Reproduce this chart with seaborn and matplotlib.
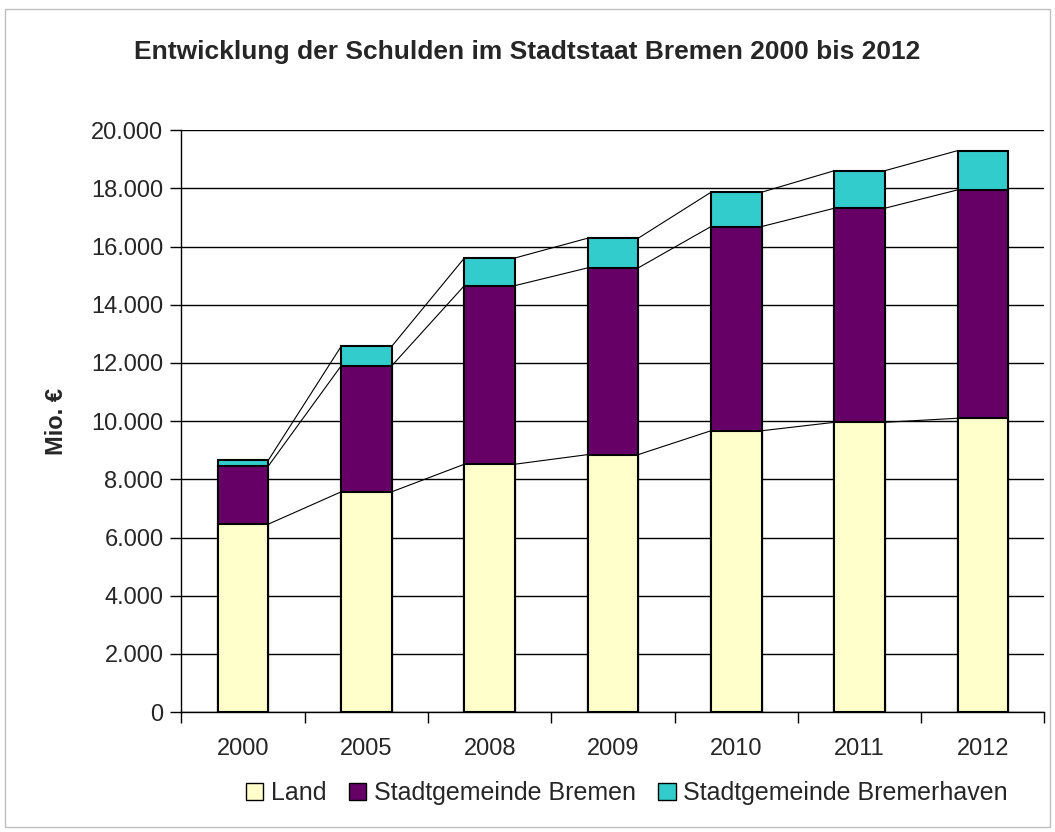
import pandas as pd
import matplotlib.pyplot as plt
import seaborn as sns
from matplotlib.patches import Patch, Rectangle
from matplotlib.ticker import FuncFormatter, FixedLocator

years = ['2000', '2005', '2008', '2009', '2010', '2011', '2012']
land = [6460, 7570, 8520, 8850, 9670, 9960, 10100]
bremen = [2000, 4330, 6140, 6420, 7020, 7360, 7850]
bremerhaven = [200, 670, 950, 1020, 1180, 1290, 1350]

labels = ['Land', 'Stadtgemeinde Bremen', 'Stadtgemeinde Bremerhaven']
colors = ['#FFFFCC', '#660066', '#33CCCC']

df = pd.DataFrame({'Jahr': years, 'Land': land, 'Bremen': bremen, 'Bremerhaven': bremerhaven})
df['c1'] = df['Land']
df['c2'] = df['Land'] + df['Bremen']
df['c3'] = df['c2'] + df['Bremerhaven']

sns.set_style('white')
plt.rcParams['font.family'] = ['Liberation Sans', 'DejaVu Sans']

fig = plt.figure(figsize=(10.55, 8.32), dpi=100)
ax = fig.add_axes([0.172, 0.1442, 0.818, 0.6992])

w = 0.41
# stacked bars: draw cumulative totals from top to bottom
for col, c in zip(['c3', 'c2', 'c1'], colors[::-1]):
    sns.barplot(data=df, x='Jahr', y=col, order=years, color=c, width=w,
                edgecolor='black', linewidth=1.5, saturation=1, ax=ax, zorder=3)

# series lines between bars
for col in ['c1', 'c2', 'c3']:
    vals = df[col].tolist()
    for i in range(len(vals) - 1):
        ax.plot([i + w / 2, i + 1 - w / 2], [vals[i], vals[i + 1]],
                color='black', lw=0.8, zorder=2)

ax.set_xlim(-0.5, len(years) - 0.5)
ax.set_ylim(0, 20000)
ax.set_yticks(range(0, 20001, 2000))
ax.yaxis.set_major_formatter(FuncFormatter(lambda v, p: f'{v:,.0f}'.replace(',', '.')))
ax.yaxis.grid(True, color='black', lw=1)
ax.set_axisbelow(True)

ax.xaxis.set_minor_locator(FixedLocator([i - 0.5 for i in range(len(years) + 1)]))
ax.tick_params(axis='x', which='major', length=0, pad=19, labelsize=17)
ax.tick_params(axis='x', which='minor', length=8, width=1, color='black', direction='out', bottom=True)
ax.tick_params(axis='y', length=8, width=1, color='black', direction='out', left=True, pad=5, labelsize=17)

for s in ['top', 'right']:
    ax.spines[s].set_visible(False)
for s in ['left', 'bottom']:
    ax.spines[s].set_color('black')
    ax.spines[s].set_linewidth(1)

ax.set_xlabel('')
ax.set_ylabel('Mio. €', fontsize=17, fontweight='bold', labelpad=17)

fig.text(0.5, 1 - 52 / 832, 'Entwicklung der Schulden im Stadtstaat Bremen 2000 bis 2012',
         ha='center', va='center', fontsize=19, fontweight='bold')

handles = [Patch(facecolor=c, edgecolor='black', linewidth=1) for c in colors]
fig.legend(handles, labels, loc='center', bbox_to_anchor=(0.594, 1 - 793 / 832), ncol=3,
           frameon=False, fontsize=18, handlelength=0.7, handleheight=0.7,
           handletextpad=0.3, columnspacing=0.9)

fig.patches.append(Rectangle((5 / 1055, 5 / 832), 1045 / 1055, 818 / 832,
                             transform=fig.transFigure, fill=False,
                             edgecolor='#bfbfbf', lw=1))

fig.savefig('out.png', dpi=100)
